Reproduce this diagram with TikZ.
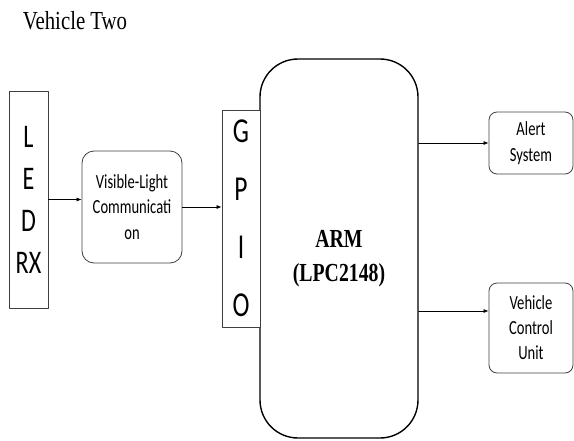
\documentclass[tikz,border=0pt]{standalone}
\usepackage{fontspec}
\setmainfont{Liberation Serif}
\newfontfamily\calibri{Carlito}
\usepackage{graphicx}
\usetikzlibrary{arrows.meta,calc}

% стиснутий по ширині текст
\newcommand{\narrowtext}[2][0.73]{\scalebox{#1}[1]{#2}}

\begin{document}
\begin{tikzpicture}[x=1pt, y=-1pt, line join=round, line cap=round,
    box/.style={draw=black!75, line width=0.8pt, fill=white, inner sep=0pt, align=center},
    soft/.style={box, rounded corners=#1},
    sig/.style={-{Latex[length=5pt,width=4pt]}, line width=0.7pt}]
    \useasboundingbox (0,0) rectangle (574,440);

    % Заголовок
    \node (title) at (75,21) {\fontsize{26}{30}\selectfont\narrowtext[0.8]{Vehicle Two}};

    % Приймач LED RX
    \node[box, minimum width=39pt, minimum height=217pt,
          font=\calibri\fontsize{33}{42}\selectfont] (led) at (28.5,199.5)
          {\narrowtext{L}\\\narrowtext{E}\\\narrowtext{D}\\\narrowtext{RX}};

    % Блок VLC
    \node[soft=12pt, minimum width=100pt, minimum height=112pt,
          font=\calibri\fontsize{20}{25.5}\selectfont] (vlc) at (132,207)
          {\narrowtext{Visible-Light}\\\narrowtext{Communicati}\\\narrowtext{on}};

    % Мікроконтролер ARM
    \node[draw, line width=1.4pt, rounded corners=38pt, minimum width=158pt,
          minimum height=379pt] (arm) at (339,248.5) {};
    \node[font=\bfseries\fontsize{26}{34}\selectfont, align=center] (armtext) at (339,259)
          {\narrowtext[0.76]{ARM}\\\narrowtext[0.76]{(LPC2148)}};

    % Порт GPIO на лівому краї ARM
    \node[box, minimum width=38pt, minimum height=217pt,
          font=\calibri\fontsize{35}{58}\selectfont] (gpio) at (241,218.5)
          {\narrowtext{G}\\\narrowtext{P}\\\narrowtext{I}\\\narrowtext{O}};

    % Вихідні блоки
    \node[soft=8pt, minimum width=84pt, minimum height=62pt,
          font=\calibri\fontsize{20}{26}\selectfont] (alert) at (531,143)
          {\narrowtext{Alert}\\\narrowtext{System}};
    \node[soft=8pt, minimum width=84pt, minimum height=90pt,
          font=\calibri\fontsize{20}{25}\selectfont] (vcu) at (531,328)
          {\narrowtext{Vehicle}\\\narrowtext{Control}\\\narrowtext{Unit}};
    \coordinate (vcuin) at ([yshift=17pt]vcu.west);

    % Стрілки
    \draw[sig] (led.east) -- (led.east -| vlc.west);
    \draw[sig] (vlc.east) -- (vlc.east -| gpio.west);
    \draw[sig] (alert.west -| arm.east) -- (alert.west);
    \draw[sig] (vcuin -| arm.east) -- (vcuin);
\end{tikzpicture}
\end{document}
